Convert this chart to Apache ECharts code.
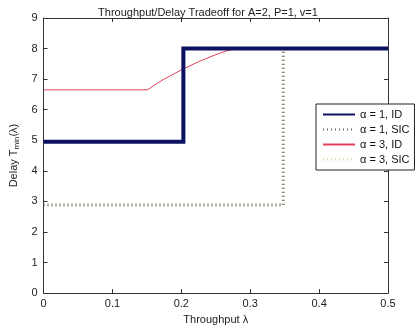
<!DOCTYPE html>
<html>
<head>
<meta charset="utf-8">
<script src="https://cdn.jsdelivr.net/npm/echarts@6/dist/echarts.min.js"></script>
<style>
html,body{margin:0;padding:0;background:#fff;}
#chart{width:416px;height:330px;}
</style>
</head>
<body>
<div id="chart"></div>
<script>
// series data: [throughput, delay]
var idA1 = [[0, 4.95], [0.203, 4.95], [0.203, 8], [0.5, 8]];
var sicA1 = [[0, 2.88], [0.348, 2.88], [0.348, 8], [0.5, 8]];
var idA3 = [[0, 6.65], [0.151, 6.65], [0.16, 6.79], [0.175, 7.0], [0.2, 7.3], [0.225, 7.57],
	[0.25, 7.8], [0.265, 7.92], [0.28, 8], [0.5, 8]];
var sicA3 = [[0.348, 8], [0.5, 8]];
var seriesNames = ['α = 1, ID', 'α = 1, SIC', 'α = 3, ID', 'α = 3, SIC'];

var font = 'Liberation Sans';
var myChart = echarts.init(document.getElementById('chart'));

var tickStyle = {show: true, inside: true, length: 4, lineStyle: {color: '#333'}};
var lineAx = {show: true, onZero: false, lineStyle: {color: '#333', width: 1}};

var option = {
	backgroundColor: '#fff',
	animation: false,
	title: {
		text: 'Throughput/Delay Tradeoff for A=2, P=1, v=1',
		left: 'center', top: 2,
		textStyle: {fontFamily: font, fontSize: 11, fontWeight: 'normal', color: '#222'}
	},
	grid: {left: 33, right: 28, top: 18, bottom: 29},
	legend: {
		orient: 'vertical',
		left: 316, top: 104,
		width: 99,
		padding: [5, 5, 5, 6],
		itemWidth: 32, itemHeight: 12, itemGap: 4,
		backgroundColor: '#fff',
		borderColor: '#222', borderWidth: 1,
		itemStyle: {opacity: 0},
		textStyle: {fontFamily: font, fontSize: 11, color: '#111'},
		data: seriesNames
	},
	xAxis: [{
		type: 'value', min: 0, max: 0.5, interval: 0.1,
		name: 'Throughput λ', nameLocation: 'middle', nameGap: 17,
		nameTextStyle: {fontFamily: font, fontSize: 11, color: '#222'},
		axisLine: lineAx, axisTick: tickStyle,
		axisLabel: {fontFamily: font, fontSize: 11, color: '#222', margin: 5,
			formatter: function (v) { return v === 0 ? '0' : String(+v.toFixed(1)); }},
		splitLine: {show: false}
	}, {
		type: 'value', position: 'top', min: 0, max: 0.5, interval: 0.1,
		axisLine: lineAx, axisTick: tickStyle, axisLabel: {show: false}, splitLine: {show: false}
	}],
	yAxis: [{
		type: 'value', min: 0, max: 9, interval: 1,
		name: '{a|Delay T}{s|min}{a|(λ)}', nameLocation: 'middle', nameGap: 16,
		nameTextStyle: {fontFamily: font, fontSize: 11, color: '#222',
			rich: {a: {fontFamily: font, fontSize: 11, color: '#222'},
				s: {fontFamily: font, fontSize: 8, color: '#222', verticalAlign: 'bottom', padding: [6, 0, 0, 0]}}},
		axisLine: lineAx, axisTick: tickStyle,
		axisLabel: {fontFamily: font, fontSize: 11, color: '#222', margin: 6},
		splitLine: {show: false}
	}, {
		type: 'value', position: 'right', min: 0, max: 9, interval: 1,
		axisLine: lineAx, axisTick: tickStyle, axisLabel: {show: false}, splitLine: {show: false}
	}],
	series: [{
		name: seriesNames[3], type: 'line', data: sicA3, symbol: 'none', z: 1,
		itemStyle: {color: '#d9d6a8'},
		lineStyle: {color: '#d9d6a8', width: 1, type: [1, 3]}
	}, {
		name: seriesNames[1], type: 'line', data: sicA1, symbol: 'none', z: 2,
		itemStyle: {color: '#5f6446'},
		lineStyle: {color: '#5f6446', width: 3, type: [1, 3]}
	}, {
		name: seriesNames[2], type: 'line', data: idA3, symbol: 'none', z: 3,
		itemStyle: {color: '#e0405a'},
		lineStyle: {color: '#e0405a', width: 1}
	}, {
		name: seriesNames[0], type: 'line', data: idA1, symbol: 'none', z: 4,
		itemStyle: {color: '#0c1160'},
		lineStyle: {color: '#0c1160', width: 4, join: 'miter'}
	}]
};

myChart.setOption(option);
</script>
</body>
</html>
